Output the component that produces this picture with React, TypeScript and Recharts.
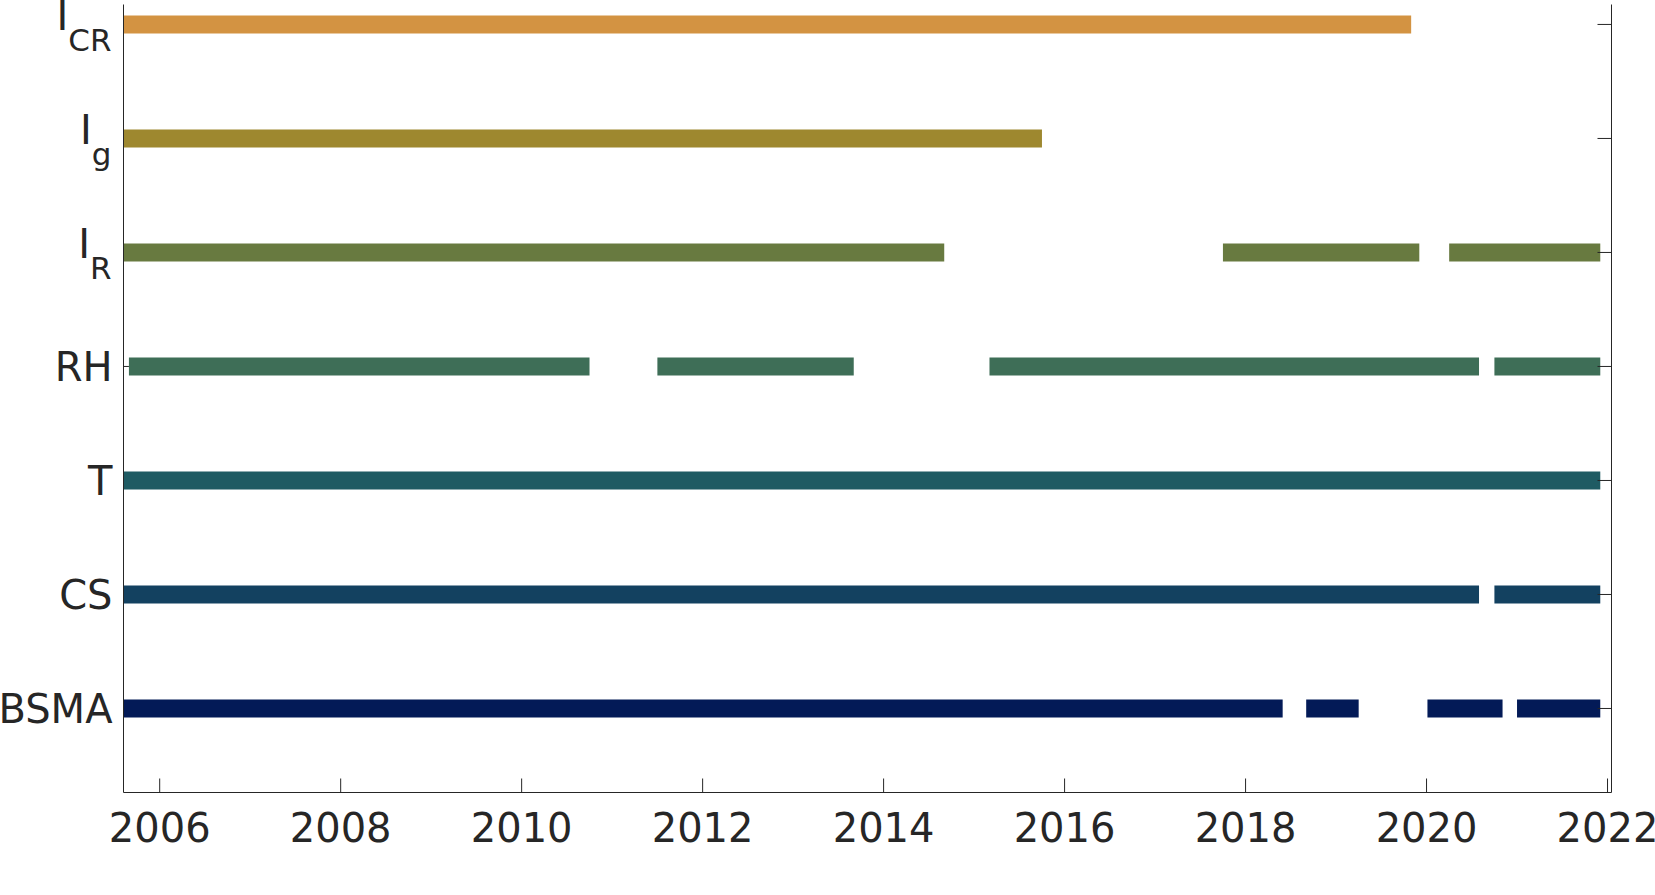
import React from 'react'
import { ComposedChart, Line, XAxis, YAxis } from 'recharts'

// rows from bottom (1) to top (7)
const rowNames = ['BSMA', 'CS', 'T', 'RH', 'I', 'I', 'I']
const rowSubs = ['', '', '', '', 'R', 'g', 'CR']
const rowColors = ['#031A57', '#134160', '#1F5B63', '#3E6E57', '#687A40', '#9E882F', '#D39342']

// data availability periods (decimal years) per row
const bsmaSegments = [[2005.6, 2018.41], [2018.67, 2019.25], [2020.01, 2020.84], [2021.0, 2021.92]]
const csSegments = [[2005.6, 2020.58], [2020.75, 2021.92]]
const tSegments = [[2005.6, 2021.92]]
const rhSegments = [[2005.66, 2010.75], [2011.5, 2013.67], [2015.17, 2020.58], [2020.75, 2021.92]]
const irSegments = [[2005.6, 2014.67], [2017.75, 2019.92], [2020.25, 2021.92]]
const igSegments = [[2005.6, 2015.75]]
const icrSegments = [[2005.6, 2019.83]]

const allSegments = [bsmaSegments, csSegments, tSegments, rhSegments, irSegments, igSegments, icrSegments]

const yearTicks = [2006, 2008, 2010, 2012, 2014, 2016, 2018, 2020, 2022]
const rowTicks = [1, 2, 3, 4, 5, 6, 7]
const xDomain = [2005.6, 2022.044]

const ink = '#262626'
const font = 'DejaVu Sans'
const plotWidth = 1488
const tickLen = 14

const BottomTick = (props: any) => {
  const { x, y, payload } = props
  return (
    <g>
      <line x1={x} y1={y} x2={x} y2={y - tickLen} stroke={ink} strokeWidth={1} />
      <text x={x} y={y + 49.5} textAnchor='middle' fontSize={40} fontFamily={font} fill={ink}>
        {payload.value}
      </text>
    </g>
  )
}

const TopTick = (props: any) => {
  const { x, y } = props
  return <line x1={x} y1={y} x2={x} y2={y + tickLen} stroke={ink} strokeWidth={1} />
}

const LeftTick = (props: any) => {
  const { x, y, payload } = props
  const i = payload.value - 1
  const sub = rowSubs[i]
  // the bars are drawn under the axis layer here, so stop the tick where the row's first bar begins
  const gap = ((allSegments[i][0][0] - xDomain[0]) / (xDomain[1] - xDomain[0])) * plotWidth
  const len = Math.min(tickLen, gap)
  return (
    <g>
      {len > 0 && <line x1={x} y1={y} x2={x + len} y2={y} stroke={ink} strokeWidth={1} />}
      {sub ? (
        <text x={x - 12} y={y + 6} textAnchor='end' fontFamily={font} fill={ink}>
          <tspan fontSize={40}>{rowNames[i]}</tspan>
          <tspan fontSize={31} dy={20.5}>{sub}</tspan>
        </text>
      ) : (
        <text x={x - 11} y={y + 14.6} textAnchor='end' fontSize={40} fontFamily={font} fill={ink}>
          {rowNames[i]}
        </text>
      )}
    </g>
  )
}

const RightTick = (props: any) => {
  const { x, y } = props
  return <line x1={x} y1={y} x2={x - tickLen} y2={y} stroke={ink} strokeWidth={1} />
}

export default function App() {
  return (
    <div style={{ position: 'absolute', left: 0, top: 0 }}>
      <ComposedChart width={1655} height={895} margin={{ top: 4.5, right: 0, bottom: 0, left: 0.5 }}>
        <XAxis
          xAxisId='bottom'
          type='number'
          dataKey='x'
          domain={xDomain}
          ticks={yearTicks}
          allowDataOverflow
          height={102.5}
          tickSize={0}
          tickMargin={0}
          tickLine={false}
          stroke={ink}
          axisLine={{ stroke: ink, strokeWidth: 1 }}
          tick={<BottomTick />}
        />
        <XAxis
          xAxisId='top'
          orientation='top'
          type='number'
          dataKey='x'
          domain={xDomain}
          ticks={yearTicks}
          allowDataOverflow
          height={0}
          tickSize={0}
          tickMargin={0}
          tickLine={false}
          stroke={ink}
          axisLine={{ stroke: ink, strokeWidth: 1 }}
          tick={<TopTick />}
        />
        <YAxis
          yAxisId='left'
          type='number'
          dataKey='y'
          domain={[0.263, 7.175]}
          ticks={rowTicks}
          allowDataOverflow
          width={123}
          tickSize={0}
          tickMargin={0}
          tickLine={false}
          stroke={ink}
          axisLine={{ stroke: ink, strokeWidth: 1 }}
          tick={<LeftTick />}
        />
        <YAxis
          yAxisId='right'
          orientation='right'
          type='number'
          domain={[0.263, 7.175]}
          ticks={rowTicks}
          allowDataOverflow
          width={43.5}
          tickSize={0}
          tickMargin={0}
          tickLine={false}
          stroke={ink}
          axisLine={{ stroke: ink, strokeWidth: 1 }}
          tick={<RightTick />}
        />
        {allSegments.map((segs, r) =>
          segs.map((s, k) => (
            <Line
              key={`${r}-${k}`}
              xAxisId='bottom'
              yAxisId='left'
              data={[{ x: s[0], y: r + 1 }, { x: s[1], y: r + 1 }]}
              dataKey='y'
              type='linear'
              stroke={rowColors[r]}
              strokeWidth={18}
              dot={false}
              activeDot={false}
              isAnimationActive={false}
            />
          ))
        )}
      </ComposedChart>
    </div>
  )
}
